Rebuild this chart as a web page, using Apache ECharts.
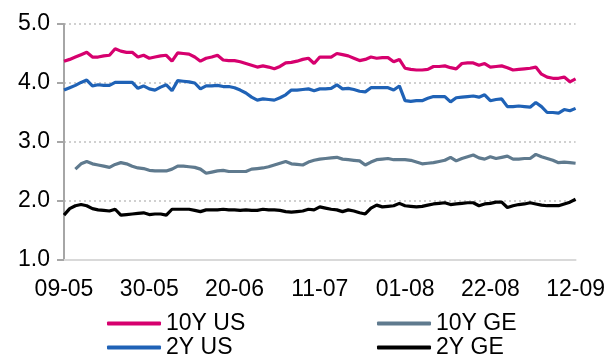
<!DOCTYPE html>
<html>
<head>
<meta charset="utf-8">
<script src="https://cdn.jsdelivr.net/npm/echarts@6/dist/echarts.min.js"></script>
<style>
  html, body { margin: 0; padding: 0; background: #fff; }
  #chart { width: 608px; height: 354px; }
</style>
</head>
<body>
<div id="chart"></div>
<script>
// Business days, 9 May – 12 Sep
const dates = [
  '09-05','10-05','11-05','12-05','15-05','16-05','17-05','18-05','19-05','22-05',
  '23-05','24-05','25-05','26-05','29-05','30-05','31-05','01-06','02-06','05-06',
  '06-06','07-06','08-06','09-06','12-06','13-06','14-06','15-06','16-06','19-06',
  '20-06','21-06','22-06','23-06','26-06','27-06','28-06','29-06','30-06','03-07',
  '04-07','05-07','06-07','07-07','10-07','11-07','12-07','13-07','14-07','17-07',
  '18-07','19-07','20-07','21-07','24-07','25-07','26-07','27-07','28-07','31-07',
  '01-08','02-08','03-08','04-08','07-08','08-08','09-08','10-08','11-08','14-08',
  '15-08','16-08','17-08','18-08','21-08','22-08','23-08','24-08','25-08','28-08',
  '29-08','30-08','31-08','01-09','04-09','05-09','06-09','07-09','08-09','11-09',
  '12-09'
];

// Government bond yields, %
const us10y = [
  4.37,4.40,4.44,4.48,4.52,4.44,4.44,4.46,4.47,4.58,
  4.54,4.52,4.52,4.44,4.47,4.42,4.44,4.46,4.47,4.37,
  4.51,4.50,4.49,4.44,4.37,4.42,4.44,4.47,4.39,4.38,
  4.38,4.36,4.33,4.30,4.27,4.29,4.27,4.24,4.28,4.34,
  4.35,4.37,4.40,4.42,4.33,4.44,4.44,4.44,4.50,4.48,
  4.46,4.42,4.38,4.40,4.44,4.42,4.43,4.43,4.36,4.40,
  4.25,4.23,4.22,4.22,4.23,4.28,4.28,4.29,4.26,4.24,
  4.33,4.34,4.34,4.30,4.33,4.27,4.28,4.29,4.26,4.22,
  4.23,4.24,4.25,4.27,4.15,4.10,4.08,4.08,4.10,4.02,
  4.07
];
const us2y = [
  3.88,3.92,3.96,4.01,4.05,3.95,3.97,3.96,3.96,4.01,
  4.01,4.01,4.01,3.91,3.95,3.90,3.88,3.93,3.97,3.87,
  4.04,4.03,4.02,4.00,3.90,3.95,3.95,3.96,3.94,3.94,
  3.92,3.88,3.83,3.76,3.71,3.73,3.72,3.71,3.75,3.80,
  3.88,3.88,3.89,3.90,3.87,3.90,3.90,3.91,3.97,3.90,
  3.91,3.89,3.86,3.85,3.92,3.92,3.92,3.92,3.88,3.95,
  3.70,3.69,3.70,3.70,3.74,3.77,3.77,3.77,3.68,3.75,
  3.76,3.77,3.78,3.76,3.80,3.70,3.72,3.73,3.60,3.60,
  3.61,3.60,3.59,3.67,3.60,3.50,3.50,3.49,3.55,3.53,
  3.57
];
const ge10y = [
  null,null,2.54,2.63,2.67,2.63,2.61,2.59,2.57,2.62,
  2.65,2.63,2.59,2.56,2.55,2.52,2.51,2.51,2.51,2.54,
  2.59,2.59,2.58,2.57,2.54,2.47,2.49,2.51,2.52,2.50,
  2.50,2.50,2.50,2.54,2.55,2.56,2.58,2.61,2.64,2.67,
  2.63,2.62,2.61,2.66,2.69,2.71,2.72,2.73,2.74,2.71,
  2.70,2.69,2.68,2.61,2.66,2.70,2.71,2.72,2.70,2.70,
  2.70,2.69,2.66,2.63,2.64,2.65,2.67,2.69,2.74,2.68,
  2.72,2.75,2.78,2.73,2.71,2.75,2.72,2.74,2.76,2.71,
  2.71,2.72,2.72,2.79,2.75,2.72,2.69,2.65,2.66,2.65,
  2.64
];
const ge2y = [
  1.76,1.87,1.92,1.94,1.92,1.87,1.85,1.84,1.83,1.86,
  1.76,1.77,1.78,1.79,1.80,1.77,1.78,1.78,1.76,1.86,
  1.86,1.86,1.86,1.84,1.82,1.85,1.85,1.85,1.86,1.85,
  1.85,1.84,1.85,1.84,1.84,1.86,1.85,1.85,1.84,1.82,
  1.81,1.82,1.83,1.86,1.85,1.90,1.88,1.86,1.85,1.82,
  1.85,1.83,1.80,1.78,1.88,1.93,1.90,1.91,1.92,1.96,
  1.92,1.91,1.90,1.91,1.93,1.95,1.96,1.97,1.94,1.95,
  1.96,1.97,1.97,1.92,1.95,1.96,1.98,1.98,1.89,1.92,
  1.94,1.95,1.97,1.95,1.93,1.92,1.92,1.92,1.95,1.98,
  2.03
];

const seriesNames = ['10Y US', '10Y GE', '2Y US', '2Y GE'];
const seriesData = [us10y, ge10y, us2y, ge2y];
const seriesColors = ['#d6006e', '#5f7a8e', '#1f62b6', '#000000'];

const FONT = 'Liberation Sans, Arial, sans-serif';
const FS = 23;

// two-column legend, one component per entry
const legendSlots = [
  { left: 107, top: 312 },
  { left: 377, top: 312 },
  { left: 107, top: 336 },
  { left: 377, top: 336 }
];

const chart = echarts.init(document.getElementById('chart'), null, { renderer: 'canvas' });

chart.setOption({
  animation: false,
  backgroundColor: '#ffffff',
  grid: { left: 64, right: 31, top: 24, bottom: 94 },
  legend: seriesNames.map((name, k) => ({
    data: [name],
    left: legendSlots[k].left,
    top: legendSlots[k].top,
    padding: 0,
    icon: 'roundRect',
    itemWidth: 54,
    itemHeight: 4,
    selectedMode: false,
    textStyle: { fontFamily: FONT, fontSize: FS, color: '#000', padding: [0, 0, 0, 0] }
  })),
  xAxis: {
    type: 'category',
    data: dates,
    boundaryGap: false,
    axisLine: { lineStyle: { color: '#d9d9d9', width: 2 } },
    axisTick: { show: false },
    axisLabel: {
      interval: 14,
      margin: 18,
      fontFamily: FONT,
      fontSize: FS,
      color: '#000',
      showMaxLabel: true
    },
    splitLine: { show: false }
  },
  yAxis: {
    type: 'value',
    min: 1,
    max: 5,
    interval: 1,
    axisLine: { show: true, lineStyle: { color: '#a6a6a6', width: 2 } },
    axisTick: { show: true, length: 7, lineStyle: { color: '#a6a6a6', width: 2 } },
    axisLabel: {
      margin: 14,
      fontFamily: FONT,
      fontSize: FS,
      color: '#000',
      formatter: v => v.toFixed(1)
    },
    splitLine: { lineStyle: { color: '#d0d0d0', width: 2, type: [2, 3] } }
  },
  series: seriesNames.map((name, k) => ({
    name: name,
    type: 'line',
    data: seriesData[k],
    symbol: 'none',
    connectNulls: false,
    color: seriesColors[k],
    lineStyle: { width: 3.2, color: seriesColors[k] },
    z: 10 - k
  }))
});
</script>
</body>
</html>
